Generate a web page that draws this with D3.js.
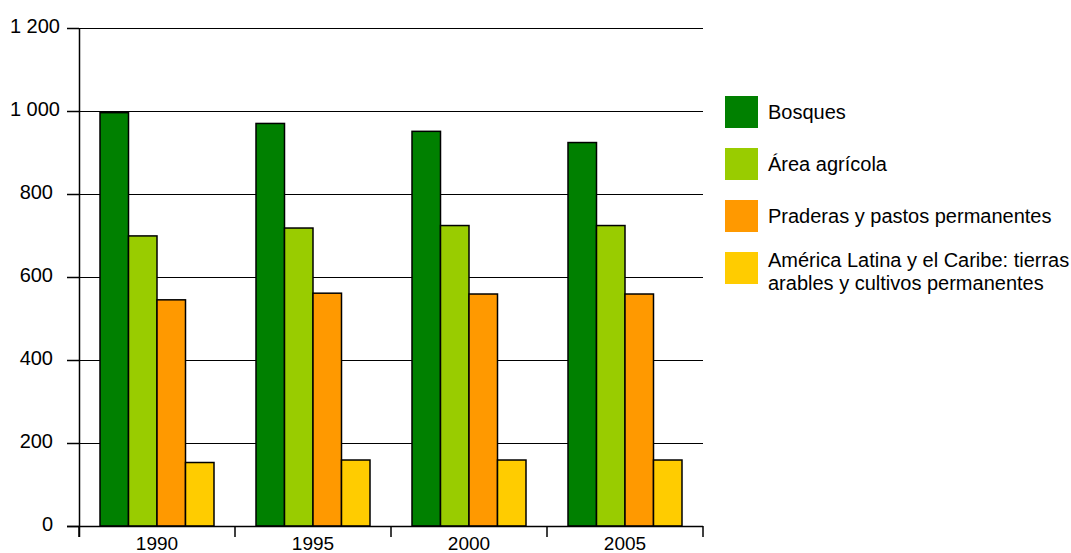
<!DOCTYPE html>
<html>
<head>
<meta charset="utf-8">
<script src="https://cdn.jsdelivr.net/npm/d3@7"></script>
<style>
  body { margin: 0; background: #fff; }
  text { font-family: "Liberation Sans", Arial, sans-serif; fill: #000; }
</style>
</head>
<body>
<div id="chart"></div>
<script>
// categories and series
var years = ["1990", "1995", "2000", "2005"];
var seriesNames = [
    "Bosques",
    "Área agrícola",
    "Praderas y pastos permanentes",
    "América Latina y el Caribe: tierras|arables y cultivos permanentes"
];
var bosques = [996, 970, 951, 924];
var agricola = [699, 718, 724, 724];
var praderas = [545, 561, 559, 559];
var arables = [153, 159, 159, 159];
var yTicks = [0, 200, 400, 600, 800, 1000, 1200];

var seriesValues = [bosques, agricola, praderas, arables];
var colors = ["#008000", "#99cc00", "#ff9900", "#ffcc00"];

var width = 1071, height = 553;
var plotLeft = 79, plotRight = 703, plotTop = 28, plotBottom = 526;

var svg = d3.select("#chart").append("svg")
    .attr("width", width)
    .attr("height", height);

var y = d3.scaleLinear().domain([0, 1200]).range([plotBottom, plotTop]);
var x0 = d3.scaleBand().domain(years).range([plotLeft, plotRight]);
var x1 = d3.scaleBand().domain(d3.range(seriesNames.length))
    .range([21, x0.bandwidth() - 21]);

var fmt = function (d) {
    return d3.format(",")(d).replace(/,/g, " ");
};

// gridlines
svg.append("g").selectAll("line")
    .data(yTicks.slice(1))
    .enter().append("line")
    .attr("x1", plotLeft).attr("x2", plotRight)
    .attr("y1", function (d) { return Math.round(y(d)) + 0.5; })
    .attr("y2", function (d) { return Math.round(y(d)) + 0.5; })
    .attr("stroke", "#000").attr("stroke-width", 1);

// bars
var rows = years.map(function (yr, i) {
    return seriesValues.map(function (s, j) { return { year: yr, k: j, value: s[i] }; });
});

svg.append("g").selectAll("g")
    .data(rows)
    .enter().append("g")
    .attr("transform", function (d, i) { return "translate(" + x0(years[i]) + ",0)"; })
    .selectAll("rect")
    .data(function (d) { return d; })
    .enter().append("rect")
    .attr("x", function (d) { return x1(d.k); })
    .attr("width", x1.bandwidth())
    .attr("y", function (d) { return y(d.value); })
    .attr("height", function (d) { return y(0) - y(d.value); })
    .attr("fill", function (d) { return colors[d.k]; })
    .attr("stroke", "#000")
    .attr("stroke-width", 1.5);

// y axis
var yAxis = svg.append("g")
    .attr("transform", "translate(" + plotLeft + ",0)")
    .call(d3.axisLeft(y).tickValues(yTicks).tickFormat(fmt).tickSize(12).tickPadding(14));
yAxis.select(".domain").attr("d", "M0.5," + plotTop + "V" + (plotBottom + 11)).attr("stroke-width", 1.5);
yAxis.selectAll(".tick line").attr("stroke-width", 1.5);
yAxis.selectAll("text")
    .attr("font-size", 20)
    .attr("dy", "0.35em")
    .attr("y", -3)
    .attr("x", function (d) { return d >= 1000 ? -19 : -26; })
    .style("font-family", "Liberation Sans, Arial, sans-serif");

// x axis
var xAxisG = svg.append("g")
    .attr("transform", "translate(0," + plotBottom + ")");
xAxisG.append("line")
    .attr("x1", plotLeft - 12).attr("x2", plotRight)
    .attr("y1", 0.5).attr("y2", 0.5)
    .attr("stroke", "#000").attr("stroke-width", 1.5);
var bounds = years.map(function (d) { return x0(d); }).concat([plotRight]);
xAxisG.selectAll(".xt")
    .data(bounds)
    .enter().append("line")
    .attr("x1", function (d) { return d; })
    .attr("x2", function (d) { return d; })
    .attr("y1", 0).attr("y2", 11)
    .attr("stroke", "#000").attr("stroke-width", 1.5);
xAxisG.selectAll(".xl")
    .data(years)
    .enter().append("text")
    .attr("x", function (d) { return x0(d) + x0.bandwidth() / 2; })
    .attr("y", 24)
    .attr("text-anchor", "middle")
    .attr("font-size", 19)
    .text(function (d) { return d; });

// legend
var legend = svg.append("g").selectAll("g")
    .data(seriesNames)
    .enter().append("g")
    .attr("transform", function (d, i) { return "translate(725," + (96 + i * 52) + ")"; });

legend.append("rect")
    .attr("width", 33).attr("height", 32)
    .attr("fill", function (d, i) { return colors[i]; });

legend.append("text")
    .attr("x", 43)
    .attr("font-size", 20)
    .selectAll("tspan")
    .data(function (d) { return d.split("|"); })
    .enter().append("tspan")
    .attr("x", 43)
    .attr("y", function (d, i, n) { return n.length > 1 ? 15 + i * 23 : 23; })
    .text(function (d) { return d; });
</script>
</body>
</html>
